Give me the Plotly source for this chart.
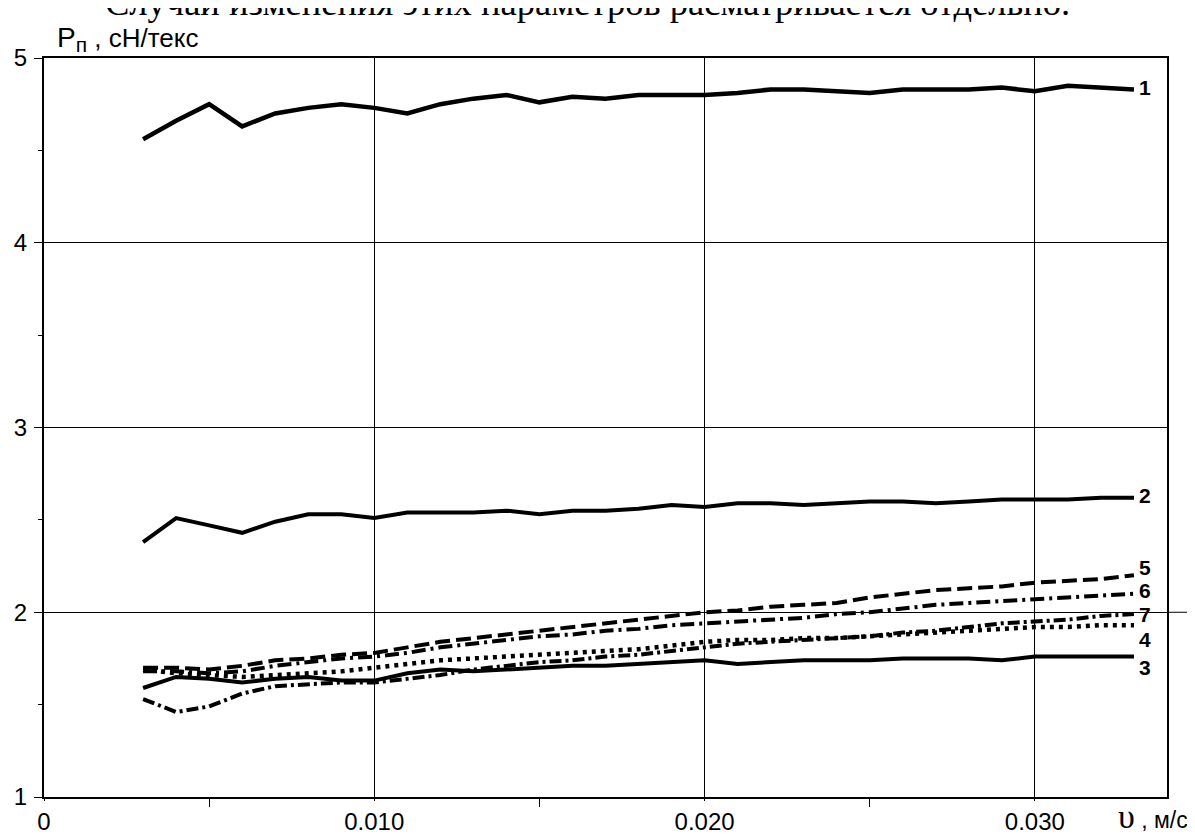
import plotly.graph_objects as go

# скорость, м/с
speed = [0.003, 0.004, 0.005, 0.006, 0.007, 0.008, 0.009, 0.010, 0.011, 0.012,
         0.013, 0.014, 0.015, 0.016, 0.017, 0.018, 0.019, 0.020, 0.021, 0.022,
         0.023, 0.024, 0.025, 0.026, 0.027, 0.028, 0.029, 0.030, 0.031, 0.032,
         0.033]

# удельное усилие, сН/текс
curve_1 = [4.56, 4.66, 4.75, 4.63, 4.70, 4.73, 4.75, 4.73, 4.70, 4.75,
           4.78, 4.80, 4.76, 4.79, 4.78, 4.80, 4.80, 4.80, 4.81, 4.83,
           4.83, 4.82, 4.81, 4.83, 4.83, 4.83, 4.84, 4.82, 4.85, 4.84,
           4.83]
curve_2 = [2.38, 2.51, 2.47, 2.43, 2.49, 2.53, 2.53, 2.51, 2.54, 2.54,
           2.54, 2.55, 2.53, 2.55, 2.55, 2.56, 2.58, 2.57, 2.59, 2.59,
           2.58, 2.59, 2.60, 2.60, 2.59, 2.60, 2.61, 2.61, 2.61, 2.62,
           2.62]
curve_3 = [1.59, 1.65, 1.64, 1.62, 1.64, 1.65, 1.63, 1.63, 1.67, 1.69,
           1.68, 1.69, 1.70, 1.71, 1.71, 1.72, 1.73, 1.74, 1.72, 1.73,
           1.74, 1.74, 1.74, 1.75, 1.75, 1.75, 1.74, 1.76, 1.76, 1.76,
           1.76]
curve_4 = [1.69, 1.67, 1.66, 1.65, 1.66, 1.67, 1.68, 1.70, 1.72, 1.74,
           1.75, 1.76, 1.77, 1.78, 1.79, 1.80, 1.82, 1.84, 1.85, 1.85,
           1.86, 1.86, 1.87, 1.88, 1.89, 1.90, 1.91, 1.92, 1.92, 1.93,
           1.93]
curve_5 = [1.70, 1.70, 1.69, 1.71, 1.74, 1.75, 1.77, 1.78, 1.81, 1.84,
           1.86, 1.88, 1.90, 1.92, 1.94, 1.96, 1.98, 2.00, 2.01, 2.03,
           2.04, 2.05, 2.08, 2.10, 2.12, 2.13, 2.14, 2.16, 2.17, 2.18,
           2.20]
curve_6 = [1.68, 1.68, 1.67, 1.68, 1.71, 1.73, 1.75, 1.76, 1.78, 1.81,
           1.83, 1.85, 1.87, 1.88, 1.90, 1.91, 1.93, 1.94, 1.95, 1.96,
           1.97, 1.99, 2.00, 2.02, 2.04, 2.05, 2.06, 2.07, 2.08, 2.09,
           2.10]
curve_7 = [1.53, 1.46, 1.49, 1.56, 1.60, 1.61, 1.62, 1.62, 1.64, 1.66,
           1.69, 1.71, 1.73, 1.74, 1.76, 1.77, 1.79, 1.81, 1.83, 1.84,
           1.85, 1.86, 1.87, 1.89, 1.90, 1.92, 1.94, 1.95, 1.96, 1.98,
           1.99]

series = [
    ("1", curve_1, "solid", 4.5),
    ("2", curve_2, "solid", 4),
    ("3", curve_3, "solid", 4),
    ("4", curve_4, "4px,5px", 4.5),
    ("5", curve_5, "15px,6px", 4),
    ("6", curve_6, "14px,5px,3px,5px", 4),
    ("7", curve_7, "12px,4px,3px,4px", 4),
]

# подписи кривых у правого края
label_x = 0.0331
label_y = {"1": 4.84, "2": 2.63, "5": 2.24, "6": 2.12, "7": 1.99, "4": 1.85, "3": 1.70}

SANS = "Arial, Liberation Sans, sans-serif"
SERIF = "Times New Roman, Liberation Serif, serif"

fig = go.Figure()
for name, ys, dash, w in series:
    fig.add_trace(go.Scatter(
        x=speed, y=ys, mode="lines", name=name,
        line=dict(color="black", width=w, dash=dash),
        showlegend=False,
    ))

for name, yv in label_y.items():
    fig.add_annotation(
        x=label_x, y=yv, xref="x", yref="y", text=f"<b>{name}</b>",
        showarrow=False, xanchor="left", yanchor="middle",
        font=dict(family=SANS, size=21, color="black"),
    )

# заголовок оси Y
fig.add_annotation(
    xref="paper", yref="paper", x=0.0096, y=1.0, xanchor="left", yanchor="bottom",
    text="<span style='font-size:28px'>P</span><sub><span style='font-size:21px'>п</span></sub> , сН/текс",
    showarrow=False, font=dict(family=SANS, size=26, color="black"),
)
# заголовок оси X
fig.add_annotation(
    xref="paper", yref="paper", x=1.0205, y=-0.027, xanchor="right", yanchor="middle",
    text="<span style='font-family:Liberation Serif, serif;font-size:34px'>υ</span> , м/с",
    showarrow=False, font=dict(family=SANS, size=23, color="black"),
)
# обрезанная строка текста документа сверху
fig.add_annotation(
    xref="paper", yref="paper", x=0.484, y=1.0757, xanchor="center", yanchor="middle",
    text="Случай изменения этих параметров расматривается отдельно.",
    showarrow=False, font=dict(family=SERIF, size=36.5, color="black"),
)
# короткий выход линии сетки за рамку у значения 2
fig.add_shape(type="line", xref="paper", yref="y", x0=1.0, x1=1.023, y0=2, y1=2,
              line=dict(color="black", width=1))

# страница добавляет отступ 8 px, поэтому фигура чуть меньше окна
fig.update_layout(
    width=1187, height=831,
    margin=dict(l=36, r=28, t=50, b=42),
    paper_bgcolor="white", plot_bgcolor="white",
    font=dict(family=SANS, size=23, color="black"),
    xaxis=dict(
        range=[0, 0.034], automargin=False,
        tickvals=[0, 0.01, 0.02, 0.03],
        ticktext=["0", "0.010", "0.020", "0.030"],
        showgrid=True, gridcolor="black", gridwidth=1.3,
        showline=True, linecolor="black", linewidth=2, mirror=True,
        ticks="outside", ticklen=2, tickcolor="black",
        minor=dict(tickvals=[0.005, 0.015, 0.025], ticks="outside", ticklen=8,
                   tickcolor="black", showgrid=False),
        ticklabelstandoff=0, zeroline=False,
        tickfont=dict(size=24),
    ),
    yaxis=dict(
        range=[1, 5], automargin=False,
        tickvals=[1, 2, 3, 4, 5],
        showgrid=True, gridcolor="black", gridwidth=1.3,
        showline=True, linecolor="black", linewidth=2, mirror=True,
        ticks="outside", ticklen=8, tickcolor="black",
        minor=dict(tickvals=[1.5, 2.5, 3.5, 4.5], ticks="outside", ticklen=4,
                   tickcolor="black", showgrid=False),
        ticklabelstandoff=2, zeroline=False,
        tickfont=dict(size=24),
    ),
)

fig.write_html("out.html")
